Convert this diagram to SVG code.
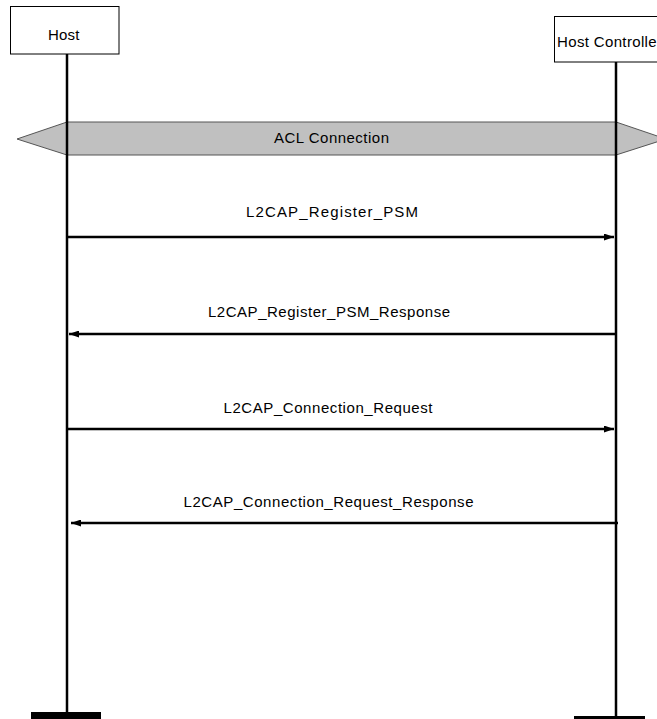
<svg xmlns="http://www.w3.org/2000/svg" width="657" height="719" viewBox="0 0 657 719">
<style>
.box{fill:#fff;stroke:#000;stroke-width:1}
.life{stroke:#000;stroke-width:2.5;fill:none}
.msg{stroke:#000;stroke-width:2.5;fill:none}
.t{font-family:"Liberation Sans",Arial,sans-serif;font-size:15px;fill:#000}
.mid{text-anchor:middle}
</style>
<defs>
<marker id="ah" viewBox="0 0 10 7" refX="10" refY="3.5" markerWidth="10" markerHeight="7" markerUnits="userSpaceOnUse" orient="auto">
<path d="M0,0 L10,3.5 L0,7 Z" fill="#000"/>
</marker>
</defs>
<rect width="657" height="719" fill="#fff"/>
<g id="acl">
<polygon points="17,139 67,122 616,122 666,139 616,155 67,155" fill="#c0c0c0" stroke="#555" stroke-width="1"/>
<text class="t" x="274" y="143" textLength="115" lengthAdjust="spacing">ACL Connection</text>
</g>
<g id="host">
<rect class="box" x="10.5" y="6.5" width="108.5" height="47.5"/>
<text class="t" x="48" y="40" textLength="31.5" lengthAdjust="spacing">Host</text>
<line class="life" x1="67" y1="54" x2="67" y2="713"/>
<rect x="31" y="712" width="70" height="8" fill="#000"/>
</g>
<g id="hostcontroller">
<rect class="box" x="554.5" y="16.5" width="130" height="45.5"/>
<text class="t" x="557" y="47" textLength="105" lengthAdjust="spacing">Host Controller</text>
<line class="life" x1="616" y1="62" x2="616" y2="717"/>
<rect x="574" y="716" width="71" height="4" fill="#000"/>
</g>
<g id="connectors">
<line class="msg" x1="67" y1="237" x2="614" y2="237" marker-end="url(#ah)"/>
<text class="t" x="246" y="216.5" textLength="172" lengthAdjust="spacing">L2CAP_Register_PSM</text>
<line class="msg" x1="616" y1="334" x2="69" y2="334" marker-end="url(#ah)"/>
<text class="t" x="208" y="316.5" textLength="242" lengthAdjust="spacing">L2CAP_Register_PSM_Response</text>
<line class="msg" x1="67" y1="429" x2="614" y2="429" marker-end="url(#ah)"/>
<text class="t" x="223.5" y="412.5" textLength="209" lengthAdjust="spacing">L2CAP_Connection_Request</text>
<line class="msg" x1="618" y1="523" x2="71" y2="523" marker-end="url(#ah)"/>
<text class="t" x="183.5" y="506.5" textLength="290" lengthAdjust="spacing">L2CAP_Connection_Request_Response</text>
</g>
</svg>
